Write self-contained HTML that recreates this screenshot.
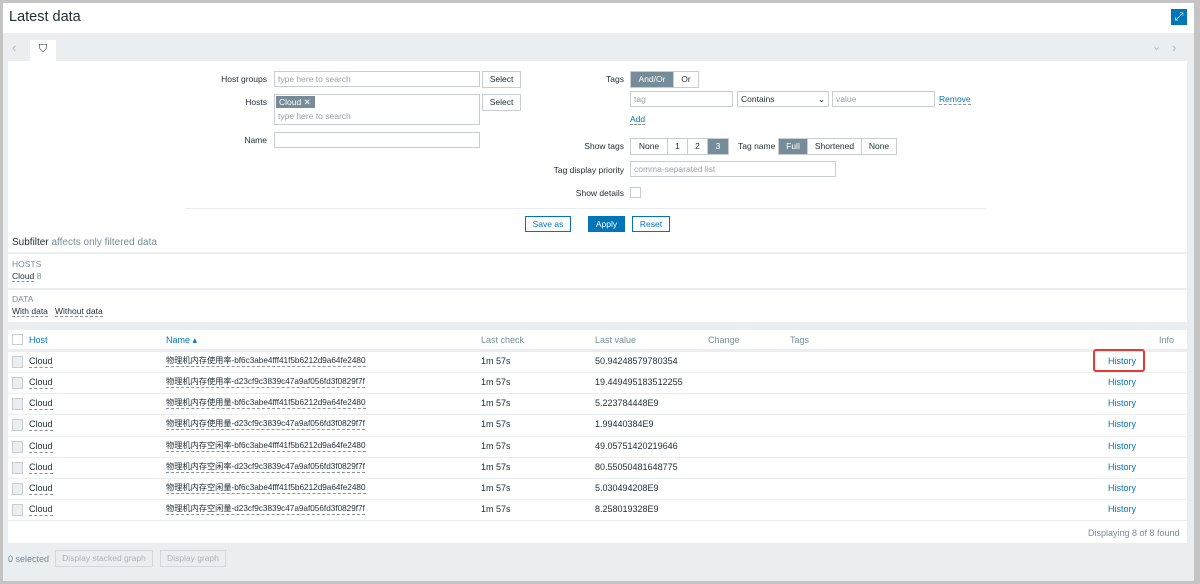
<!DOCTYPE html>
<html><head><meta charset="utf-8"><style>
*{box-sizing:border-box;margin:0;padding:0}
body{width:1200px;height:584px;background:#c4c4c4;font-family:"Liberation Sans","Noto Sans CJK SC",sans-serif;font-size:9px;color:#1f2c33;position:relative;overflow:hidden}
.a{position:absolute}
.page{left:3px;top:3px;width:1191px;height:578px;background:#ebeef0}
.hdr{left:3px;top:3px;width:1191px;height:30px;background:#fff}
.white{background:#fff}
.inp{position:absolute;border:1px solid #c7cdd1;background:#fff;height:16px;color:#9aa2a7;padding:2px 3px;font-size:8.5px}
.btn{position:absolute;border:1px solid #c7cdd1;background:#fff;height:17px;text-align:center;line-height:15px;font-size:8.5px;color:#1f2c33}
.lbl{position:absolute;text-align:right;font-size:8.5px}
.lnk{color:#0275b8}
.u{border-bottom:1px dashed #8a9399}
.bu{position:absolute;border:1px solid #0275b8;color:#0275b8;background:#fff;height:16px;line-height:14px;text-align:center;font-size:8.5px}
.seg{position:absolute;height:17px;display:flex;border:1px solid #c7cdd1;font-size:8.5px}
.seg span{border-right:1px solid #c7cdd1;line-height:15px;text-align:center;background:#fff}
.seg span.on{background:#768d99;color:#fff}
.row{position:absolute;left:8px;width:1179px;height:21px;border-top:1px solid #ebeef0}
.row div{position:absolute;top:4px;line-height:11px;height:12px}
.row div.nm{font-size:8.2px;white-space:nowrap;top:3px}
.cb{width:11px;height:11px;border:1px solid #c7cdd1;background:#ebeef0;top:4px!important;left:4px}
.sep{position:absolute;height:1px;background:#ebeef0}
.gray{color:#768d99}
</style></head><body>
<div class="a page"></div>
<div class="a hdr"></div>
<div class="a" style="left:9px;top:9px;font-size:14.5px;color:#1f2c33">Latest data</div>
<div class="a" style="left:1171px;top:9px;width:16px;height:16px;background:#0275b8;color:#fff;font-size:11px;text-align:center;line-height:16px">⤢</div>
<div class="a" style="left:12px;top:40px;color:#b0b8bd;font-size:13px">‹</div>
<div class="a white" style="left:30px;top:40px;width:26px;height:22px;text-align:center;font-size:11px;line-height:18px">⛉</div>
<div class="a" style="left:1152px;top:40px;color:#b0b8bd;font-size:11px">⌄</div>
<div class="a" style="left:1172px;top:40px;color:#b0b8bd;font-size:13px">›</div>
<div class="a white" style="left:8px;top:61px;width:1179px;height:261px"></div>
<div class="lbl" style="left:180px;top:74px;width:87px">Host groups</div>
<div class="inp" style="left:274px;top:71px;width:206px">type here to search</div>
<div class="btn" style="left:482px;top:71px;width:39px">Select</div>
<div class="lbl" style="left:180px;top:97px;width:87px">Hosts</div>
<div class="inp" style="left:274px;top:94px;width:206px;height:31px"></div>
<div class="a" style="left:276px;top:96px;width:39px;height:12px;background:#768d99;color:#fff;font-size:8.5px;padding:1px 3px">Cloud ✕</div>
<div class="a" style="left:278px;top:111px;color:#9aa2a7;font-size:8.5px">type here to search</div>
<div class="btn" style="left:482px;top:94px;width:39px">Select</div>
<div class="lbl" style="left:180px;top:135px;width:87px">Name</div>
<div class="inp" style="left:274px;top:132px;width:206px"></div>
<div class="lbl" style="left:540px;top:74px;width:84px">Tags</div>
<div class="seg" style="left:630px;top:71px"><span class="on" style="width:43px">And/Or</span><span style="width:24px;border:0">Or</span></div>
<div class="inp" style="left:630px;top:91px;width:103px">tag</div>
<div class="inp" style="left:737px;top:91px;width:92px;color:#1f2c33">Contains<span style="float:right">⌄</span></div>
<div class="inp" style="left:832px;top:91px;width:103px">value</div>
<div class="a lnk u" style="left:939px;top:94px;font-size:8.5px">Remove</div>
<div class="a lnk u" style="left:630px;top:114px;font-size:8.5px">Add</div>
<div class="lbl" style="left:540px;top:141px;width:84px">Show tags</div>
<div class="seg" style="left:630px;top:138px"><span style="width:37px">None</span><span style="width:20px">1</span><span style="width:20px">2</span><span class="on" style="width:20px;border:0">3</span></div>
<div class="a" style="left:738px;top:141px;font-size:8.5px">Tag name</div>
<div class="seg" style="left:778px;top:138px"><span class="on" style="width:29px">Full</span><span style="width:54px">Shortened</span><span style="width:34px;border:0">None</span></div>
<div class="lbl" style="left:520px;top:165px;width:104px">Tag display priority</div>
<div class="inp" style="left:630px;top:161px;width:206px">comma-separated list</div>
<div class="lbl" style="left:540px;top:188px;width:84px">Show details</div>
<div class="a" style="left:630px;top:187px;width:11px;height:11px;border:1px solid #c7cdd1"></div>
<div class="sep" style="left:185px;top:208px;width:800px"></div>
<div class="bu" style="left:525px;top:216px;width:46px">Save as</div>
<div class="a" style="left:588px;top:216px;width:37px;height:16px;background:#0275b8;color:#fff;text-align:center;line-height:16px;font-size:8.5px">Apply</div>
<div class="bu" style="left:632px;top:216px;width:38px;color:#0275b8">Reset</div>
<div class="a" style="left:12px;top:237px;font-size:10px">Subfilter <span class="gray">affects only filtered data</span></div>
<div class="sep" style="left:8px;top:252px;width:1179px;height:2px"></div>
<div class="a gray" style="left:12px;top:259px;font-size:8.5px">HOSTS</div>
<div class="a" style="left:12px;top:271px;font-size:8.5px"><span class="u">Cloud</span> <span class="gray">8</span></div>
<div class="sep" style="left:8px;top:288px;width:1179px;height:2px"></div>
<div class="a gray" style="left:12px;top:294px;font-size:8.5px">DATA</div>
<div class="a" style="left:12px;top:306px;font-size:8.5px"><span class="u">With data</span>&nbsp;&nbsp;&nbsp;<span class="u">Without data</span></div>
<div class="a white" style="left:8px;top:330px;width:1179px;height:213px"></div>
<div class="a" style="left:12px;top:334px;width:11px;height:11px;border:1px solid #c7cdd1"></div>
<div class="a lnk" style="left:29px;top:335px">Host</div>
<div class="a lnk" style="left:166px;top:335px">Name ▴</div>
<div class="a gray" style="left:481px;top:335px">Last check</div>
<div class="a gray" style="left:595px;top:335px">Last value</div>
<div class="a gray" style="left:708px;top:335px">Change</div>
<div class="a gray" style="left:790px;top:335px">Tags</div>
<div class="a gray" style="left:1159px;top:335px">Info</div>
<div class="sep" style="left:8px;top:349px;width:1179px;height:2px"></div>
<div class="row" style="top:351px"><div class="cb"></div><div class="u" style="left:21px">Cloud</div><div class="u nm" style="left:158px">物理机内存使用率-bf6c3abe4fff41f5b6212d9a64fe2480</div><div style="left:473px">1m 57s</div><div style="left:587px">50.94248579780354</div><div class="lnk" style="left:1100px">History</div></div>
<div class="row" style="top:372px"><div class="cb"></div><div class="u" style="left:21px">Cloud</div><div class="u nm" style="left:158px">物理机内存使用率-d23cf9c3839c47a9af056fd3f0829f7f</div><div style="left:473px">1m 57s</div><div style="left:587px">19.449495183512255</div><div class="lnk" style="left:1100px">History</div></div>
<div class="row" style="top:393px"><div class="cb"></div><div class="u" style="left:21px">Cloud</div><div class="u nm" style="left:158px">物理机内存使用量-bf6c3abe4fff41f5b6212d9a64fe2480</div><div style="left:473px">1m 57s</div><div style="left:587px">5.223784448E9</div><div class="lnk" style="left:1100px">History</div></div>
<div class="row" style="top:414px"><div class="cb"></div><div class="u" style="left:21px">Cloud</div><div class="u nm" style="left:158px">物理机内存使用量-d23cf9c3839c47a9af056fd3f0829f7f</div><div style="left:473px">1m 57s</div><div style="left:587px">1.99440384E9</div><div class="lnk" style="left:1100px">History</div></div>
<div class="row" style="top:436px"><div class="cb"></div><div class="u" style="left:21px">Cloud</div><div class="u nm" style="left:158px">物理机内存空闲率-bf6c3abe4fff41f5b6212d9a64fe2480</div><div style="left:473px">1m 57s</div><div style="left:587px">49.05751420219646</div><div class="lnk" style="left:1100px">History</div></div>
<div class="row" style="top:457px"><div class="cb"></div><div class="u" style="left:21px">Cloud</div><div class="u nm" style="left:158px">物理机内存空闲率-d23cf9c3839c47a9af056fd3f0829f7f</div><div style="left:473px">1m 57s</div><div style="left:587px">80.55050481648775</div><div class="lnk" style="left:1100px">History</div></div>
<div class="row" style="top:478px"><div class="cb"></div><div class="u" style="left:21px">Cloud</div><div class="u nm" style="left:158px">物理机内存空闲量-bf6c3abe4fff41f5b6212d9a64fe2480</div><div style="left:473px">1m 57s</div><div style="left:587px">5.030494208E9</div><div class="lnk" style="left:1100px">History</div></div>
<div class="row" style="top:499px"><div class="cb"></div><div class="u" style="left:21px">Cloud</div><div class="u nm" style="left:158px">物理机内存空闲量-d23cf9c3839c47a9af056fd3f0829f7f</div><div style="left:473px">1m 57s</div><div style="left:587px">8.258019328E9</div><div class="lnk" style="left:1100px">History</div></div>
<div class="sep" style="left:8px;top:520px;width:1179px"></div>
<div class="a" style="left:1093px;top:349px;width:52px;height:23px;border:2px solid #e53935;border-radius:3px"></div>
<div class="a gray" style="left:1088px;top:528px">Displaying 8 of 8 found</div>
<div class="a gray" style="left:8px;top:554px">0 selected</div>
<div class="a" style="left:55px;top:550px;width:98px;height:17px;border:1px solid #d3d8dc;color:#aab2b7;text-align:center;line-height:15px;font-size:8.5px">Display stacked graph</div>
<div class="a" style="left:160px;top:550px;width:66px;height:17px;border:1px solid #d3d8dc;color:#aab2b7;text-align:center;line-height:15px;font-size:8.5px">Display graph</div>
</body></html>
